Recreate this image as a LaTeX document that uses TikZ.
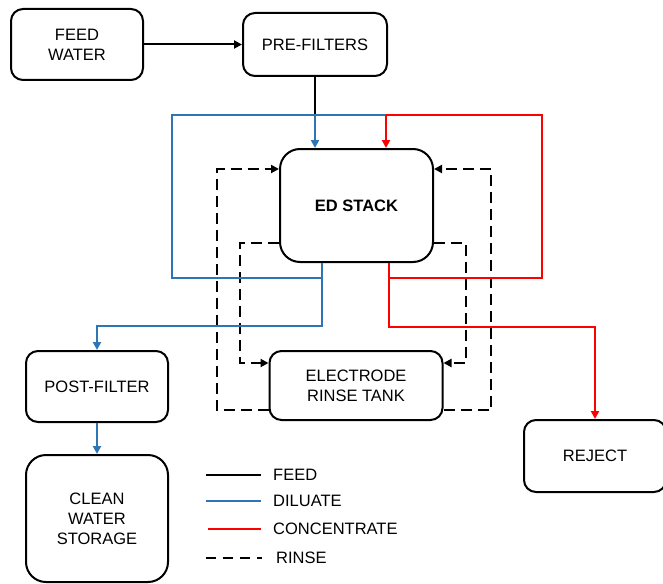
\documentclass[tikz,border=0pt]{standalone}
\usepackage{fontspec}
\setmainfont{Liberation Sans}
\usetikzlibrary{arrows.meta}
\definecolor{dilblue}{RGB}{46,117,182}
\definecolor{concred}{RGB}{255,0,0}
\begin{document}
\begin{tikzpicture}[x=1pt,y=-1pt,
  box/.style={draw=black,line width=2pt,rounded corners=12pt,align=center,inner sep=0pt,
    font=\fontsize{16.5}{20}\selectfont},
  tip/.style={-{Triangle[length=8pt,width=8pt]}},
  feedl/.style={draw=black,line width=2pt},
  dil/.style={draw=dilblue,line width=2pt},
  conc/.style={draw=concred,line width=2pt},
  rinse/.style={draw=black,line width=2pt,dash pattern=on 11pt off 6pt},
  legtext/.style={anchor=west,inner sep=0pt,font=\fontsize{16.5}{20}\selectfont}]
\useasboundingbox (0,0) rectangle (663,583);

% nodes
\node[box,minimum width=132pt,minimum height=71pt] (feed) at (77,44.5) {FEED\\WATER};
\node[box,minimum width=144pt,minimum height=63pt] (pre) at (315,44.5) {PRE-FILTERS};
\node[box,rounded corners=20pt,minimum width=153pt,minimum height=113pt,font=\fontsize{16.5}{20}\selectfont\bfseries] (ed) at (356.5,205.5) {ED STACK};
\node[box,minimum width=173pt,minimum height=69pt] (tank) at (356,385.5) {ELECTRODE\\RINSE TANK};
\node[box,minimum width=142pt,minimum height=71pt] (post) at (97,386.5) {POST-FILTER};
\node[box,rounded corners=20pt,minimum width=142pt,minimum height=127pt] (cws) at (97,518.5) {CLEAN\\WATER\\STORAGE};
\node[box,minimum width=142pt,minimum height=72pt] (reject) at (595,456) {REJECT};

\coordinate (fj) at (315,115);
\coordinate (bx) at (322,0);
\coordinate (rx) at (389,0);
\coordinate (rj) at (386,115);

% feed
\draw[feedl,tip] (feed.east) -- (pre.west |- feed.east);
\draw[feedl] (pre.south) -- (fj);

% rinse (dashed)
\draw[rinse,tip] (tank.west |- 0,410) -| (217,169) -- (ed.west |- 0,169);
\draw[rinse,tip] (tank.east |- 0,410) -| (491,169) -- (ed.east |- 0,169);
\draw[rinse,tip] (ed.west |- 0,243) -| (240,363) -- (tank.west |- 0,363);
\draw[rinse,tip] (ed.east |- 0,243) -| (466,363) -- (tank.east |- 0,363);

% diluate
\draw[dil] (bx |- 0,278) -| (172,115) -- (rj);
\draw[dil,tip] (fj) -- (ed.north -| fj);
\draw[dil,tip] (ed.south -| bx) -- (bx |- 0,326) -| (post.north);
\draw[dil,tip] (post.south) -- (cws.north);

% concentrate
\draw[conc] (rx |- 0,278) -| (542,115) -- (rj);
\draw[conc,tip] (rj) -- (ed.north -| rj);
\draw[conc,tip] (ed.south -| rx) -- (rx |- 0,327) -| (reject.north);

% legend
\node[legtext] (lf) at (273,475) {FEED};
\node[legtext] (ld) at (273,501) {DILUATE};
\node[legtext] (lc) at (273,529) {CONCENTRATE};
\node[legtext] (lr) at (276,558) {RINSE};
\draw[feedl] ([xshift=-67pt]lf.west) -- ([xshift=-12pt]lf.west);
\draw[dil] ([xshift=-67pt]ld.west) -- ([xshift=-12pt]ld.west);
\draw[conc] ([xshift=-65pt]lc.west) -- ([xshift=-12pt]lc.west);
\draw[draw=black,line width=2pt,dash pattern=on 10pt off 7pt] ([xshift=-70pt]lr.west) -- ([xshift=-14pt]lr.west);
\end{tikzpicture}
\end{document}
